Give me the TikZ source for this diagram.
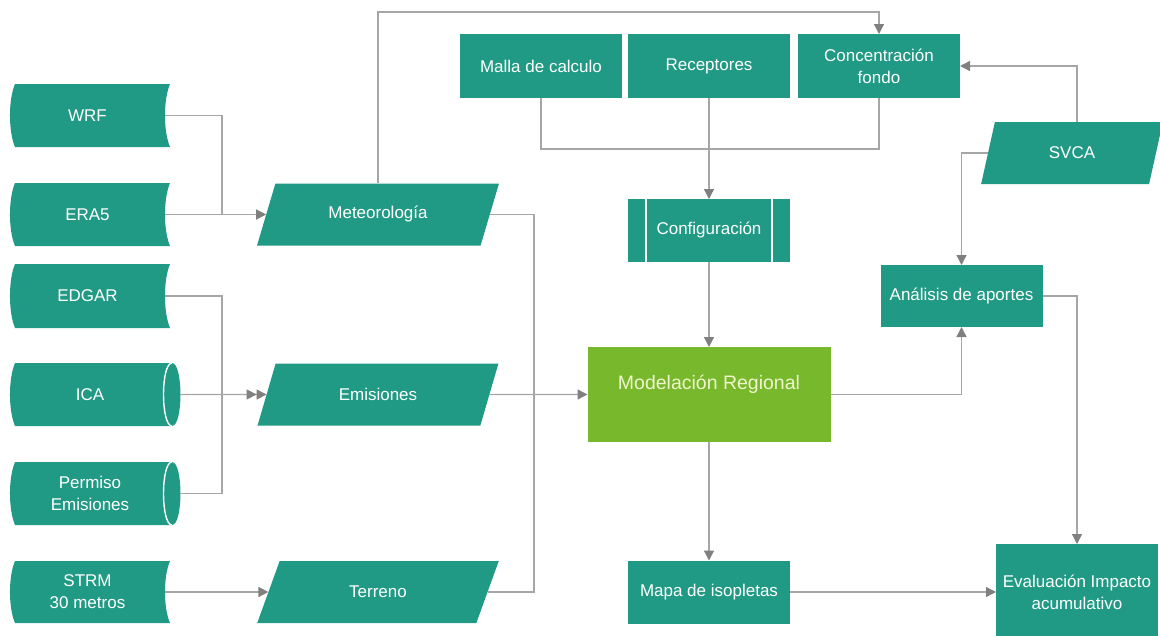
\documentclass[tikz,border=0pt]{standalone}
\usepackage{fontspec}
\setmainfont{Liberation Sans}
\usetikzlibrary{shapes.geometric,arrows.meta,calc}
\definecolor{tealc}{HTML}{219A85}
\definecolor{greenc}{HTML}{77B82C}
\definecolor{linec}{HTML}{A6A6A6}
\definecolor{arrowc}{HTML}{808080}
\definecolor{creamc}{HTML}{F0F5CC}
\newcommand\sdpath[2]{%
  \fill[tealc] (15,#1) -- (170,#1) .. controls (163.3,{#1+0.25*(#2-#1)}) and (163.3,{#2-0.25*(#2-#1)}) .. (170,#2)
    -- (15,#2) .. controls (8.3,{#2-0.25*(#2-#1)}) and (8.3,{#1+0.25*(#2-#1)}) .. (15,#1) -- cycle;}
\newcommand\cylpath[2]{%
  \fill[tealc] (15,#1) -- (172,#1) .. controls (183.3,#1) and (183.3,#2) .. (172,#2)
    -- (15,#2) .. controls (8.3,{#2-0.25*(#2-#1)}) and (8.3,{#1+0.25*(#2-#1)}) .. (15,#1) -- cycle;
  \draw[white,line width=1.4pt] (172,#1) .. controls (160.7,#1) and (160.7,#2) .. (172,#2);}
\tikzset{
 txt/.style={text=white, font=\fontsize{17}{22}\selectfont, align=center, inner sep=0pt, outer sep=0pt},
 box/.style={txt, fill=tealc, rectangle, minimum width=162pt, minimum height=64pt},
 para/.style={txt, fill=tealc, trapezium, trapezium left angle=61, trapezium right angle=119,
   trapezium stretches=true, minimum width=242pt, minimum height=62pt},
 line/.style={draw=linec, line width=1.3pt},
 arr/.style={line, -{Triangle[length=10pt,width=10pt,color=arrowc]}},
 darr/.style={line, -{Triangle[length=10pt,width=10pt,color=arrowc]Triangle[length=10pt,width=10pt,color=arrowc]}},
}
\begin{document}
\begin{tikzpicture}[x=1pt,y=-1pt]
\useasboundingbox (0,0) rectangle (1160,635);
% left sources
\sdpath{84}{147}
\node[txt, minimum width=155pt, minimum height=63pt] (wrf) at (87.5,115.5) {WRF};
\sdpath{183}{246}
\node[txt, minimum width=155pt, minimum height=63pt] (era) at (87.5,214.5) {ERA5};
\sdpath{264}{328}
\node[txt, minimum width=155pt, minimum height=64pt] (edgar) at (87.5,296) {EDGAR};
\cylpath{363}{426}
\node[txt, minimum width=160pt, minimum height=63pt] (ica) at (90,394.5) {ICA};
\cylpath{462}{525}
\node[txt, minimum width=160pt, minimum height=63pt] (perm) at (90,493.5) {Permiso\\Emisiones};
\sdpath{561}{623}
\node[txt, minimum width=155pt, minimum height=62pt] (strm) at (87.5,592) {STRM\\30 metros};
% data parallelograms
\node[para] (met) at (378,214.5) {Meteorología};
\node[para] (emis) at (378,394.5) {Emisiones};
\node[para] (terr) at (378,592) {Terreno};
\node[para, trapezium left angle=71, trapezium right angle=109, minimum width=182pt] (svca) at (1072,153) {SVCA};
% boxes
\node[box] (malla) at (541,66) {Malla de calculo};
\node[box] (recep) at (709,66) {Receptores};
\node[box] (conc) at (879,66) {Concentración\\fondo};
\node[box, minimum height=63pt] (conf) at (709,230.5) {Configuración};
\draw[white, line width=1.5pt] ([xshift=18pt]conf.north west) -- ([xshift=18pt]conf.south west);
\draw[white, line width=1.5pt] ([xshift=-18pt]conf.north east) -- ([xshift=-18pt]conf.south east);
\node[fill=greenc, text=creamc, font=\fontsize{19.5}{24}\selectfont, inner sep=0pt, outer sep=0pt,
  minimum width=243pt, minimum height=95pt, text height=14pt, text depth=25pt] (model) at (709,394.5) {Modelación Regional};
\node[box, minimum height=63pt] (mapa) at (709,592) {Mapa de isopletas};
\node[box, minimum height=62pt] (anal) at (961.5,296) {Análisis de aportes};
\node[box, minimum height=96pt] (eval) at (1077,592) {Evaluación Impacto\\acumulativo};
% helper coordinates
\coordinate (jM) at (222,214.5);
\coordinate (jE) at (222,394.5);
\coordinate (jR) at (534,592);
\coordinate (topY) at (0,12);
\coordinate (botY) at (0,149);
% connectors
\draw[line] (wrf.east) -| (jM);
\draw[arr] (era.east) -- (met.west);
\draw[line] (edgar.east) -| (jE);
\draw[line] ([xshift=10pt]perm.east) -| (jE);
\draw[darr] ([xshift=10pt]ica.east) -- (emis.west);
\draw[arr] (strm.east) -- (terr.west);
\draw[arr] (met.north -| met.center) -- (met.center |- topY) -| (conc.north);
\draw[line] (met.east) -| (jR) -- (terr.east);
\draw[arr] (emis.east) -- (model.west);
\draw[line] (malla.south) -- (malla.south |- botY) -| (conc.south);
\draw[arr] (recep.south) -- (conf.north);
\draw[arr] (conf.south) -- (model.north);
\draw[arr] (model.south) -- (mapa.north);
\draw[arr] (mapa.east) -- (eval.west);
\draw[arr] (model.east) -| (anal.south);
\draw[arr] (anal.east) -| (eval.north);
\draw[arr] (svca.west) -| (anal.north);
\draw[arr] (svca.north -| eval.north) |- (conc.east);
\end{tikzpicture}
\end{document}
